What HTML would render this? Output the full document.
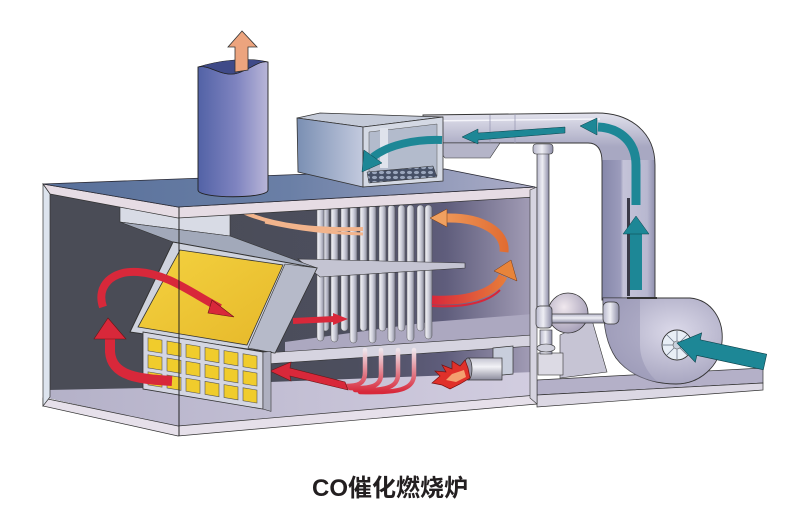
<!DOCTYPE html>
<html><head><meta charset="utf-8"><style>
html,body{margin:0;padding:0;background:#fff;width:800px;height:512px;overflow:hidden}
svg{display:block}
</style></head><body>
<svg xmlns="http://www.w3.org/2000/svg" width="800" height="512" viewBox="0 0 800 512">
<defs>
<linearGradient id="gTop" x1="43" y1="0" x2="535" y2="0" gradientUnits="userSpaceOnUse"><stop offset="0" stop-color="#58709a"/><stop offset="0.5" stop-color="#6a7fa6"/><stop offset="1" stop-color="#aeaec8"/></linearGradient>
<linearGradient id="gChim" x1="0" y1="0" x2="1" y2="0"><stop offset="0" stop-color="#5262a6"/><stop offset="0.55" stop-color="#7f84c0"/><stop offset="1" stop-color="#b9b6d8"/></linearGradient>
<linearGradient id="gBack" x1="178" y1="0" x2="535" y2="0" gradientUnits="userSpaceOnUse"><stop offset="0" stop-color="#4a4c56"/><stop offset="0.5" stop-color="#4c4e5e"/><stop offset="0.75" stop-color="#5f5d7c"/><stop offset="1" stop-color="#a59fb8"/></linearGradient>
<linearGradient id="gTube" x1="0" y1="0" x2="1" y2="0"><stop offset="0" stop-color="#f6f6fa"/><stop offset="0.5" stop-color="#d0d1dc"/><stop offset="1" stop-color="#8d8fa0"/></linearGradient>
<linearGradient id="gFloor" x1="48" y1="0" x2="535" y2="0" gradientUnits="userSpaceOnUse"><stop offset="0" stop-color="#b4b1c8"/><stop offset="1" stop-color="#d2cde0"/></linearGradient>
<linearGradient id="gDuctH" x1="0" y1="112" x2="0" y2="147" gradientUnits="userSpaceOnUse"><stop offset="0" stop-color="#e4e4ee"/><stop offset="1" stop-color="#a8a8c2"/></linearGradient>
<linearGradient id="gDuctV" x1="602" y1="0" x2="655" y2="0" gradientUnits="userSpaceOnUse"><stop offset="0" stop-color="#8587aa"/><stop offset="0.35" stop-color="#9c9cbc"/><stop offset="0.4" stop-color="#c4c3d8"/><stop offset="0.85" stop-color="#b8b8d0"/><stop offset="1" stop-color="#8f8fae"/></linearGradient>
<linearGradient id="gBox" x1="0" y1="0" x2="1" y2="0"><stop offset="0" stop-color="#7a8fb3"/><stop offset="1" stop-color="#c3cade"/></linearGradient>
<linearGradient id="gY" x1="0" y1="0" x2="1" y2="1"><stop offset="0" stop-color="#f4d240"/><stop offset="1" stop-color="#e6b82a"/></linearGradient>
<linearGradient id="gRT" x1="0" y1="350" x2="0" y2="392" gradientUnits="userSpaceOnUse"><stop offset="0" stop-color="#eee4ea"/><stop offset="1" stop-color="#d8283a"/></linearGradient>
<linearGradient id="gCyl" x1="0" y1="0" x2="0" y2="1"><stop offset="0" stop-color="#c4c4d2"/><stop offset="0.4" stop-color="#f2f2f6"/><stop offset="1" stop-color="#8a8a9c"/></linearGradient>
<linearGradient id="gPipe" x1="0" y1="0" x2="1" y2="0"><stop offset="0" stop-color="#b8b8cc"/><stop offset="0.45" stop-color="#eeeef4"/><stop offset="1" stop-color="#8c8ca6"/></linearGradient>
<linearGradient id="gPipeH" x1="0" y1="0" x2="0" y2="1"><stop offset="0" stop-color="#b8b8cc"/><stop offset="0.45" stop-color="#eeeef4"/><stop offset="1" stop-color="#8c8ca6"/></linearGradient>
<linearGradient id="gOrA" x1="430" y1="0" x2="510" y2="0" gradientUnits="userSpaceOnUse"><stop offset="0" stop-color="#f0a060"/><stop offset="1" stop-color="#e06a30"/></linearGradient>
<linearGradient id="gOrB" x1="432" y1="0" x2="512" y2="0" gradientUnits="userSpaceOnUse"><stop offset="0" stop-color="#d8283a"/><stop offset="1" stop-color="#e8843a"/></linearGradient>
<radialGradient id="gFan" cx="0.6" cy="0.4" r="0.7"><stop offset="0" stop-color="#dcdaea"/><stop offset="1" stop-color="#a09eba"/></radialGradient>
<radialGradient id="gPump" cx="0.4" cy="0.35" r="0.7"><stop offset="0" stop-color="#f0e8ee"/><stop offset="1" stop-color="#a39db6"/></radialGradient>
<pattern id="holes" width="7" height="5" patternUnits="userSpaceOnUse"><rect width="7" height="5" fill="#465066"/><ellipse cx="3.5" cy="2.5" rx="2.6" ry="1.6" fill="#9aa6bc"/></pattern>
</defs>

<!-- platform -->
<polygon points="537,380 763,368 763,383 537,395" fill="#b4b0c8" stroke="#333" stroke-width="0.7"/>
<polygon points="537,395 763,383 763,390 537,407" fill="#dcd8e4" stroke="#333" stroke-width="0.7"/>

<!-- duct -->
<path d="M423,115 L597,113 C630,113 655,132 655,165 L655,300 L602,300 L602,162 C602,150 598,143 588,143 L423,143 Z" fill="url(#gDuctH)"/>
<rect x="602" y="160" width="53" height="140" fill="url(#gDuctV)"/>
<path d="M423,115 L597,113 C630,113 655,132 655,165 L655,300 L602,300 L602,162 C602,150 598,143 588,143 L423,143 Z" fill="none" stroke="#333" stroke-width="0.9"/>
<line x1="423" y1="121" x2="600" y2="119" stroke="#f4f4fa" stroke-width="1.5"/>
<line x1="490" y1="115" x2="490" y2="143" stroke="#9a9ab4" stroke-width="0.8"/>
<line x1="515" y1="114" x2="515" y2="143" stroke="#9a9ab4" stroke-width="0.8"/>
<polygon points="433,143 500,143 490,158 445,158" fill="#b4b4c8" stroke="#333" stroke-width="0.6"/>
<rect x="627" y="198" width="3" height="98" fill="#3a3a48"/>

<!-- fan housing -->
<path d="M603,298 L690,298 C712,300 724,320 722,342 C720,366 700,384 676,384 C650,384 628,374 616,358 C608,346 603,330 603,298 Z" fill="url(#gFan)" stroke="#333" stroke-width="0.9"/>
<path d="M603,298 L640,298 L640,345 C640,360 648,374 658,382 C640,380 624,370 615,356 C608,345 603,330 603,298 Z" fill="#9896b4" opacity="0.55"/>
<line x1="627" y1="298" x2="657" y2="298" stroke="#333" stroke-width="2"/>
<circle cx="677" cy="345" r="15" fill="#e8eef6" stroke="#333" stroke-width="0.9"/>
<g stroke="#6a7488" stroke-width="0.8">
<line x1="677" y1="345" x2="691" y2="345"/><line x1="677" y1="345" x2="687" y2="355"/><line x1="677" y1="345" x2="677" y2="359"/><line x1="677" y1="345" x2="667" y2="355"/><line x1="677" y1="345" x2="663" y2="345"/><line x1="677" y1="345" x2="667" y2="335"/><line x1="677" y1="345" x2="677" y2="331"/><line x1="677" y1="345" x2="687" y2="335"/>
</g>
<circle cx="677" cy="345" r="4" fill="#c8d0dc" stroke="#555" stroke-width="0.6"/>

<!-- main box interior -->
<polygon points="48,190 178,213 535,193 535,398 178,427 48,398" fill="#4a4c56"/>
<polygon points="178,213 535,193 535,398 178,427" fill="url(#gBack)"/>
<polygon points="285,342 430,322 533,314 533,336 285,354" fill="#aca8c0"/>
<polygon points="48,390 145,388 270,382 535,372 535,398 178,427 48,398" fill="url(#gFloor)"/>
<polygon points="265,353 533,335 533,346 265,364" fill="#d6d4e0" stroke="#333" stroke-width="0.6"/>

<!-- tubes -->
<g stroke="#555" stroke-width="0.5" fill="url(#gTube)">
<rect x="322" y="205" width="7" height="126" rx="3.5"/><rect x="341" y="205" width="7" height="126" rx="3.5"/><rect x="360" y="205" width="7" height="126" rx="3.5"/><rect x="379" y="205" width="7" height="126" rx="3.5"/><rect x="398" y="205" width="7" height="126" rx="3.5"/><rect x="417" y="205" width="7" height="126" rx="3.5"/>
<rect x="317" y="205" width="7" height="136" rx="3.5"/><rect x="331" y="205" width="7" height="137" rx="3.5"/><rect x="350" y="205" width="7" height="138" rx="3.5"/><rect x="369" y="205" width="7" height="138" rx="3.5"/><rect x="388" y="205" width="7" height="137" rx="3.5"/><rect x="407" y="205" width="7" height="136" rx="3.5"/><rect x="425" y="205" width="7" height="134" rx="3.5"/>
</g>
<polygon points="298,259 465,263 465,268 320,277" fill="#c4c4d2" stroke="#333" stroke-width="0.6"/>

<!-- U tubes lower chamber -->
<g fill="none" stroke="url(#gRT)" stroke-width="4.5" stroke-linecap="round">
<path d="M365,350 L365,372 C365,384 358,386 345,386"/>
<path d="M381,350 L381,374 C381,386 372,389 350,388"/>
<path d="M398,350 L398,374 C398,388 385,391 355,390"/>
<path d="M414,350 L414,374 C414,390 398,393 360,392"/>
</g>
<polygon points="270,371 291,362 290,368 345,382 348,390 290,376 291,381" fill="#d8283a" stroke="#6a1515" stroke-width="0.6"/>

<!-- burner -->
<polygon points="493,348 513,346 513,374 493,376" fill="#c8cedc" stroke="#333" stroke-width="0.7"/>
<rect x="468" y="358" width="34" height="22" fill="url(#gCyl)" stroke="#333" stroke-width="0.7"/>
<ellipse cx="468" cy="369" rx="4" ry="11" fill="#9a9aaa" stroke="#333" stroke-width="0.7"/>
<path d="M432,383 L440,376 L435,371 L446,372 L442,365 L452,369 L452,361 L460,366 L465,360 L468,368 L470,378 L460,384 L450,389 L442,385 Z" fill="#e0302a" stroke="#7a1010" stroke-width="0.7"/>
<path d="M446,380 L452,374 L458,372 L464,370 L466,377 L456,382 Z" fill="#f4a070"/>

<!-- hood -->
<polygon points="120,206 230,214 230,236 120,222" fill="#d8dbe5" stroke="#333" stroke-width="0.6"/>
<polygon points="120,222 230,236 317,268 173,242" fill="#a2a9ba" stroke="#333" stroke-width="0.6"/>

<!-- catalyst panel -->
<polygon points="173,242 317,268 275,353 130,332" fill="#cfd3de" stroke="#333" stroke-width="1"/>
<polygon points="285,264 317,268 275,353 248,348" fill="#b6bac9" stroke="#333" stroke-width="0.6"/>
<polygon points="180,250 283,265 247,345 138,327" fill="url(#gY)" stroke="#333" stroke-width="0.8"/>

<!-- grid block -->
<g transform="translate(143,332) skewY(9.5)">
<rect x="0" y="0" width="120" height="57" fill="#d4d6e2" stroke="#333" stroke-width="0.8"/>
<polygon points="120,0 128,-2 128,58 120,57" fill="#aeb0c0" stroke="#333" stroke-width="0.6"/>
<g fill="#f0cc2c" stroke="#555" stroke-width="0.6">
<rect x="5" y="5" width="14" height="13"/><rect x="24" y="5" width="14" height="13"/><rect x="43" y="5" width="14" height="13"/><rect x="62" y="5" width="14" height="13"/><rect x="81" y="5" width="14" height="13"/><rect x="100" y="5" width="14" height="13"/>
<rect x="5" y="22" width="14" height="13"/><rect x="24" y="22" width="14" height="13"/><rect x="43" y="22" width="14" height="13"/><rect x="62" y="22" width="14" height="13"/><rect x="81" y="22" width="14" height="13"/><rect x="100" y="22" width="14" height="13"/>
<rect x="5" y="39" width="14" height="13"/><rect x="24" y="39" width="14" height="13"/><rect x="43" y="39" width="14" height="13"/><rect x="62" y="39" width="14" height="13"/><rect x="81" y="39" width="14" height="13"/><rect x="100" y="39" width="14" height="13"/>
</g>
</g>

<!-- red arrows -->
<path d="M172,381 C140,379 112,377 110,352 L110,338" fill="none" stroke="#d8283a" stroke-width="10"/>
<polygon points="94,339 126,339 108,318" fill="#d8283a" stroke="#6a1515" stroke-width="0.6"/>
<path d="M103,307 C96,286 112,270 138,272 C168,274 190,292 220,308" fill="none" stroke="#d8283a" stroke-width="8"/>
<polygon points="212,300 234,317 208,313" fill="#d8283a" stroke="#6a1515" stroke-width="0.6"/>
<path d="M293,321 L335,319" stroke="#d8283a" stroke-width="6"/>
<polygon points="333,313 348,319 333,325" fill="#d8283a"/>

<!-- orange arrows -->
<path d="M504,252 C506,232 482,217 446,218" fill="none" stroke="url(#gOrA)" stroke-width="9"/>
<polygon points="430,218 447,209 447,227" fill="#f0a060" stroke="#7a3a10" stroke-width="0.5"/>
<path d="M432,300 C470,302 496,292 503,276" fill="none" stroke="url(#gOrB)" stroke-width="9"/>
<path d="M432,306 C470,308 490,300 500,290" fill="none" stroke="#d8283a" stroke-width="2"/>
<polygon points="511,260 494,271 517,281" fill="#e8843a" stroke="#7a3a10" stroke-width="0.5"/>
<path d="M243,212 C275,226 315,230 363,229" fill="none" stroke="#f2b48c" stroke-width="4"/>
<path d="M265,222 C300,230 330,233 363,234" fill="none" stroke="#f2b48c" stroke-width="3"/>

<!-- frame: floor slab, top slab, walls -->
<polygon points="43,398 178,426 537,395 537,404 178,436 43,406" fill="#e6e0ea" stroke="#333" stroke-width="0.7"/>
<polygon points="43,184 178,207 535,187 535,197 178,218 50,194" fill="#e6dce4" stroke="#333" stroke-width="0.7"/>
<polygon points="43,184 445,169 535,187 178,207" fill="url(#gTop)" stroke="#2a2a35" stroke-width="0.8"/>
<polygon points="43,184 50,194 50,397 43,406" fill="#dde4ee" stroke="#333" stroke-width="0.7"/>
<polygon points="530,190 537,187 537,404 530,398" fill="#d6d4e0" stroke="#333" stroke-width="0.6"/>

<!-- top box -->
<polygon points="297,118 320,113 443,117 363,127" fill="#c4cad8" stroke="#333" stroke-width="0.7"/>
<polygon points="297,118 363,127 363,187 298,172" fill="url(#gBox)" stroke="#333" stroke-width="0.8"/>
<polygon points="363,127 443,117 443,181 363,187" fill="#d4d9e4" stroke="#333" stroke-width="0.8"/>
<polygon points="369,132 437,124 437,176 369,181" fill="#b3bbcc" stroke="#555" stroke-width="0.5"/>
<rect x="380" y="128" width="8" height="40" fill="#dfe3ec"/>
<polygon points="367,172 433,166 437,177 369,183" fill="url(#holes)" stroke="#333" stroke-width="0.5"/>
<path d="M442,140 C415,139 388,145 373,157" fill="none" stroke="#1d8796" stroke-width="8"/>
<polygon points="362,172 364,150 382,163" fill="#1d8796" stroke="#0d4048" stroke-width="0.5"/>

<!-- teal duct arrows -->
<polygon points="462,137 478,129 478,133 565,127 565,133 478,140 478,144" fill="#1d8796" stroke="#0d4048" stroke-width="0.5"/>
<path d="M636,205 L636,165 C636,142 620,128 598,127" fill="none" stroke="#1d8796" stroke-width="9"/>
<polygon points="580,126 597,118 597,135" fill="#1d8796" stroke="#0d4048" stroke-width="0.5"/>
<rect x="630" y="232" width="12" height="58" fill="#1d8796"/>
<polygon points="623,234 649,234 636,216" fill="#1d8796" stroke="#0d4048" stroke-width="0.5"/>
<polygon points="677,343 701.7,332.9 700.2,339.8 766.7,354.2 763.3,369.8 696.8,355.4 695.3,362.3" fill="#1d8796" stroke="#0d4048" stroke-width="0.6"/>

<!-- pump and pipes -->
<polygon points="560,335 592,320 607,372 560,378" fill="#c6c4d4" stroke="#333" stroke-width="0.6"/>
<rect x="538" y="353" width="25" height="22" fill="#dcdae4" stroke="#333" stroke-width="0.6"/>
<rect x="540" y="330" width="12" height="24" fill="url(#gPipe)" stroke="#333" stroke-width="0.6"/>
<ellipse cx="546" cy="348" rx="9" ry="4" fill="#d0d0dc" stroke="#333" stroke-width="0.6"/>
<circle cx="568" cy="313" r="20" fill="url(#gPump)" stroke="#333" stroke-width="0.8"/>
<rect x="537" y="147" width="12" height="165" fill="url(#gPipe)" stroke="#333" stroke-width="0.7"/>
<rect x="533" y="144" width="20" height="10" rx="3" fill="url(#gPipe)" stroke="#333" stroke-width="0.6"/>
<rect x="540" y="314" width="73" height="9" fill="url(#gPipeH)" stroke="#333" stroke-width="0.7"/>
<rect x="536" y="306" width="16" height="22" rx="4" fill="url(#gPipe)" stroke="#333" stroke-width="0.7"/>
<rect x="603" y="302" width="16" height="22" rx="5" fill="url(#gPipe)" stroke="#333" stroke-width="0.7"/>

<!-- chimney -->
<path d="M198,67 C210,64 222,78 238,73 C252,68 260,60 268,62 L268,190 C268,199 198,199 198,190 Z" fill="url(#gChim)" stroke="#222" stroke-width="0.9"/>
<path d="M198,67 C220,60 250,57 268,62 C260,60 252,68 238,73 C222,78 210,64 198,67 Z" fill="#3f4a88" stroke="#222" stroke-width="0.6"/>
<polygon points="242,31 228,47 235,47 235,72 248,70 248,47 257,47" fill="#eca47e" stroke="#333" stroke-width="0.8"/>

<!-- front seam -->
<line x1="179" y1="207" x2="179" y2="436" stroke="#222" stroke-width="1"/>

<text x="390" y="496" text-anchor="middle" font-family="'Liberation Sans','Noto Sans CJK SC',sans-serif" font-size="24" font-weight="bold" fill="#231f20">CO催化燃烧炉</text>
</svg>
</body></html>
